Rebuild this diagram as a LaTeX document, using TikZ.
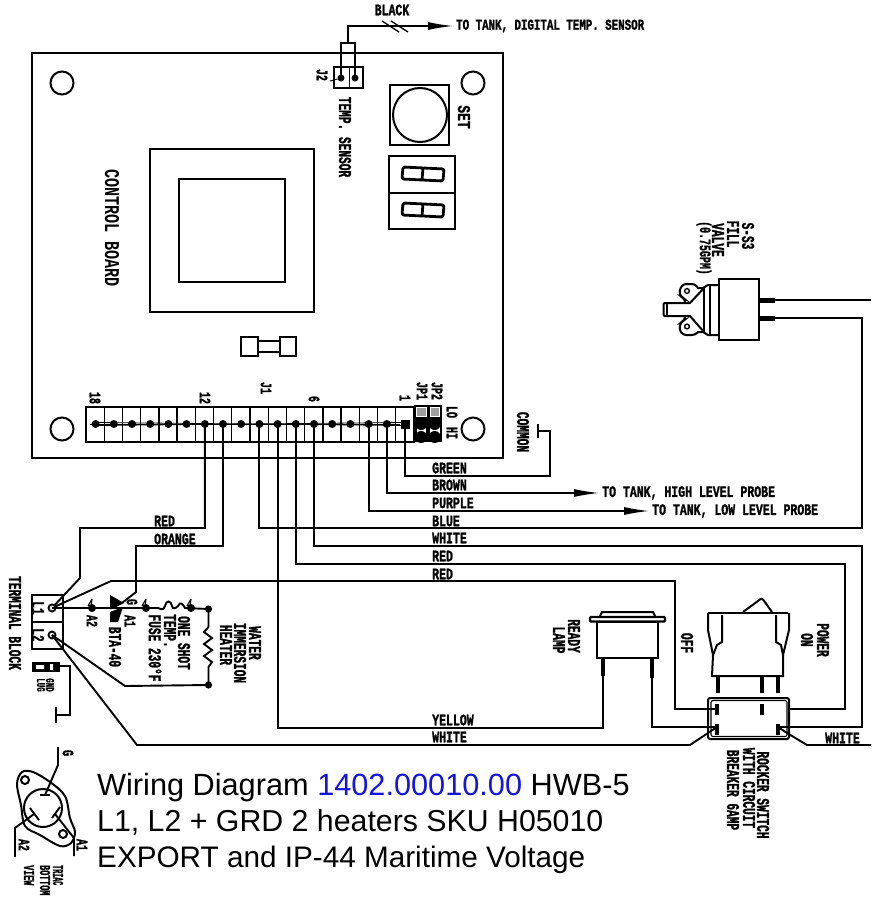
\documentclass[tikz,border=0pt]{standalone}
\usepackage{fontspec}
\usetikzlibrary{arrows.meta,calc}
\setmainfont{Liberation Sans}
\newfontfamily\cadfont[FakeStretch=0.72,FakeBold=1.2]{Liberation Mono Bold}
\newfontfamily\cadlight[FakeStretch=0.72]{Liberation Mono Bold}
\newfontfamily\cadtall[FakeStretch=0.62,FakeBold=1.2]{Liberation Mono Bold}
\definecolor{linkblue}{RGB}{20,20,220}
\tikzset{
  wire/.style={line width=1.9pt,line join=miter},
  body/.style={line width=2pt},
  thin wire/.style={line width=1pt},
  thick pin/.style={line width=3.2pt},
  arrowed/.style={wire,-{Latex[length=26pt,width=8pt]}},
  dot/.style={circle,fill=black,inner sep=0pt,minimum size=7pt},
  lab/.style={inner sep=0pt,font=\cadfont\fontsize{16}{17}\selectfont,anchor=west},
  smalllab/.style={inner sep=0pt,font=\cadfont\fontsize{15}{17}\selectfont,anchor=west},
  rlab/.style={inner sep=0pt,font=\cadtall\fontsize{18}{18}\selectfont,rotate=-90},
  bigrlab/.style={inner sep=0pt,font=\cadlight\fontsize{21}{21}\selectfont,rotate=-90},
  tinylab/.style={inner sep=0pt,font=\cadtall\fontsize{16}{16}\selectfont,rotate=-90},
  microlab/.style={inner sep=0pt,font=\cadtall\fontsize{12}{12}\selectfont,rotate=-90},
  trilab/.style={inner sep=0pt,font=\cadtall\fontsize{15}{15}\selectfont,rotate=-90,anchor=west},
  title/.style={inner sep=0pt,anchor=base west},
}
\begin{document}
\begin{tikzpicture}[x=1pt,y=-1pt]
\useasboundingbox (0,0) rectangle (871,901);
\clip (0,0) rectangle (871,901);
% ---- control board
\draw[body] (32,53) rectangle (503,458);
\foreach \x/\y in {62/83,473/83,62/429,473/429} \draw[body] (\x,\y) circle (11.5);
\draw[body] (150,149) rectangle (314,312);
\draw[body] (179,179) rectangle (285,282);
% fuse
\draw[body,line width=2.4pt] (241,337) rectangle (258,356);
\draw[body,line width=2.4pt] (280,337) rectangle (296,356);
\draw[body] (258,341) -- (280,341) (258,352) -- (280,352);
% set button and display
\draw[body] (390,85) rectangle (449,145);
\draw[body] (420,115) circle (27);
\draw[body] (389,156) rectangle (455,193);
\draw[body] (389,193) rectangle (455,229);
\foreach \y in {167,203}{
  \draw[line width=2.8pt,rounded corners=2pt] (403,\y) -- (444,\y+2) -- (443,\y+14) -- (402,\y+12) -- cycle;
  \draw[line width=2.8pt] (423,\y+1) -- (422,\y+13);
}
% J2
\draw[body] (334,67) rectangle (363,88);
\draw[thin wire] (349,67) -- (349,88);
\node[dot] (j2a) at (341,78) {};
\node[dot] (j2b) at (355,78) {};
\draw[thin wire] (330,81) -- (j2a);
\coordinate (j2top) at (348,43);
\draw[wire] (341,78) -- (341,43) -- (355,43) -- (355,78);
\coordinate (tanktemp) at (454,26);
\draw[arrowed] (j2top) |- (tanktemp);
\draw[line width=1.3pt] (382,21) -- (399,32) (391,21) -- (408,32);
% terminal strip
\draw[body] (86,407) rectangle (414,442);
\foreach \i in {1,...,17} \draw[line width=1.4pt] ({86+18.22*\i},407) -- ({86+18.22*\i},442);
\foreach \i in {1,...,18}{
  \coordinate (pin\i) at ({405-18.2*(\i-1)},424);
}
\draw[line width=.8pt] (90,424) -- (400,424);
\draw[line width=.8pt] (95,425.5) -- (405,422.5);
\draw[line width=.8pt] (95,422.5) -- (405,425.5);
\foreach \i in {2,...,18} \fill (pin\i) circle (4);
\fill (400.5,419.5) rectangle (409.5,428.5);
% jumpers
\fill (414,405) rectangle (442,442);
\foreach \x in {416,429.5}{
  \fill[gray!75] (\x,406.5) rectangle (\x+10.5,417);
  \draw[line width=.8pt,white] (\x+.5,407) rectangle (\x+10,416.5);
  \fill[white] (\x+.5,427) rectangle (\x+10,434);
  \fill (\x+5.2,424) circle (6);
  \fill (\x+5.2,437) circle (6);
}
% board labels
\node[bigrlab] (lboard) at (112,228) {CONTROL BOARD};
\node[rlab] (lsensor) at (345,137) {TEMP. SENSOR};
\node[rlab,font=\cadfont\fontsize{18}{18}\selectfont] (lset) at (464,117) {SET};
\node[tinylab] (lj2) at (322,75) {J2};
\node[tinylab] (l18) at (95,398) {18};
\node[tinylab] (l12) at (205,398) {12};
\node[tinylab] (lj1) at (266,388) {J1};
\node[tinylab] (l6) at (314,399) {6};
\node[tinylab] (l1) at (405,398) {1};
\node[tinylab] (ljpa) at (422,391) {JP1};
\node[tinylab] (ljpb) at (437,391) {JP2};
\node[tinylab] (llo) at (452,412) {LO};
\node[tinylab] (lhi) at (452,433) {HI};
\node[rlab] (lcommon) at (523,432) {COMMON};
% top texts
\node[lab,anchor=center] (lblack) at (392,10) {BLACK};
\node[smalllab] (ltanktemp) at (456,26) {TO TANK, DIGITAL TEMP. SENSOR};
% common wire
\coordinate (comm) at (550,431);
\coordinate (commbar) at (538,431);
\draw[wire] (pin1) |- (550,476) -- (comm) -- (commbar);
\draw[wire] (538,424) -- (538,438);
% probes
\coordinate (hprobe) at (600,493);
\coordinate (lprobe) at (650,511);
\draw[arrowed] (pin2) |- (hprobe);
\draw[arrowed] (pin3) |- (lprobe);
\node[lab] (lhprobe) at (602,493) {TO TANK, HIGH LEVEL PROBE};
\node[lab] (llprobe) at (652,511) {TO TANK, LOW LEVEL PROBE};
% long wires
\coordinate (valveb) at (775,318);
\coordinate (valvea) at (775,300);
\coordinate (offedge) at (871,300);
\draw[wire] (valvea) -- (offedge);
\draw[wire] (pin9) |- (862,528) -- (862,318) -- (valveb);
\draw[wire] (pin6) |- (862,546) -- (862,727) -- (790,727);
\draw[wire] (pin7) |- (845,564) -- (845,709) -- (790,709);
\coordinate (termL1) at (52,608);
\coordinate (termL2) at (52,635);
\draw[wire] (termL1) -- (111,581) -- (675,581) -- (675,709) -- (708,709);
\draw[wire] (pin8) |- (603,728) -- (603,676);
\draw[wire] (pin11) |- (136,546) -- (136,592) -- (122,603);
\draw[wire] (pin12) |- (80,528) -- (80,578) -- (termL1);
% wire labels
\foreach \n/\t/\y in {a/GREEN/468,b/BROWN/485,c/PURPLE/503,d/BLUE/521,e/WHITE/538,f/RED/556,g/RED/574,h/YELLOW/720,i/WHITE/737}
  \node[lab] (w\n) at (432,\y) {\t};
\node[lab] (wred) at (154,521) {RED};
\node[lab] (worange) at (154,539) {ORANGE};
\node[lab] (wwhite) at (825,738) {WHITE};
% terminal block
\draw[body] (32,595) rectangle (63,622);
\draw[body] (32,622) rectangle (63,649);
\draw[wire,fill=white] (termL1) circle (3.5);
\draw[wire,fill=white] (termL2) circle (3.5);
\node[tinylab,font=\cadtall\fontsize{18}{18}\selectfont] (ll1) at (38,608) {L1};
\node[tinylab,font=\cadtall\fontsize{18}{18}\selectfont] (ll2) at (38,635) {L2};
\node[rlab] (lterm) at (15,623) {TERMINAL BLOCK};
% gnd lug
\fill (32,662) rectangle (60,672);
\fill[white] (36,665) rectangle (44,669) (50,664) rectangle (53,670);
\coordinate (lug) at (60,666);
\coordinate (lugbar) at (56,715);
\draw[wire] (lug) -- (70,666) -- (70,715) -- (lugbar);
\draw[wire] (56,707) -- (56,723);
\node[microlab] (lgnd) at (50,685) {GND};
\node[microlab] (llug) at (41,685) {LUG};
% triac line
\coordinate (a2) at (92,608);
\coordinate (a1) at (146,608);
\coordinate (cutout) at (191,608);
\coordinate (ha) at (208.5,609);
\coordinate (hb) at (208.5,685);
\draw[wire] (termL1) -- (158,608) .. controls (160,608) and (163,612) .. (165,606) .. controls (166,600) and (171,600) .. (172,606) .. controls (173,610) and (176,608) .. (178,606) .. controls (180,601) and (183,604) .. (185,608) -- (ha);
\foreach \c in {a2,a1,cutout}{
  \fill (\c) circle (4);
  \draw[line width=1.1pt] (\c) ++(-4,-2) -- ++(4,-7);
  \draw[line width=1.1pt] (\c) ++(-1,-2) -- ++(1,-7);
}
\fill (ha) circle (3.6);
\fill (hb) circle (3.6);
\draw[wire] (ha) -- (208.5,627) -- (204,632) -- (212,638) -- (204,644) -- (212,650) -- (204,656) -- (212,662) -- (208.5,667) -- (hb);
\draw[wire] (hb) -- (125,686) -- (termL2);
\fill (110,595) -- (124,603) -- (112,609) -- (110,609) -- cycle;
\fill (110,612) -- (123,607) -- (118,622) -- (110,622) -- cycle;
\node[tinylab] (la2) at (92,621) {A2};
\node[tinylab] (la1) at (130,621) {A1};
\node[tinylab] (lg) at (132,602) {G};
\node[rlab] (lbta) at (115,647) {BTA-40};
\node[rlab] (lfuse) at (155,648) {FUSE 230°F};
\node[rlab] (ltemp) at (170,631) {TEMP.};
\node[rlab] (lone) at (184,643) {ONE SHOT};
\node[rlab] (lwater) at (255,643) {WATER};
\node[rlab] (limm) at (240,653) {IMMERSION};
\node[rlab] (lheat) at (226,645) {HEATER};
% lamp
\coordinate (lampa) at (603,676);
\coordinate (lampb) at (652,678);
\draw[body] (600,616) -- (602,612) -- (653,612) -- (655,616);
\draw[line width=2.4pt,rounded corners=1pt,fill=white] (590,617) rectangle (665,621.5);
\draw[body] (597,622) rectangle (658,658);
\draw[thick pin] (603,658) -- (lampa);
\draw[thick pin] (652,658) -- (652,678);
\draw[wire] (lampb) |- (708,727);
\node[rlab] (lready) at (574,636) {READY};
\node[rlab] (llamp) at (559,640) {LAMP};
% rocker
\draw[body,rounded corners=2pt] (743,612) -- (762,598) -- (772,612);
\draw[line width=2.6pt] (708,613) -- (788,613);
\draw[body] (708,613) -- (708,630) -- (713,655) -- (712,676) -- (783,676) -- (783,655) -- (789,630) -- (789,613);
\draw[body] (722,615) -- (722,642) -- (717,645) -- (713,655);
\draw[body] (776,615) -- (776,642) -- (781,645) -- (783,655);
\foreach \x in {718,762,778} \draw[thick pin] (\x,676) -- (\x,693);
\node[rlab] (loff) at (687,643) {OFF};
\node[rlab] (lpower) at (823,640) {POWER};
\node[rlab] (lon) at (807,640) {ON};
% breaker
\draw[body,rounded corners=2pt] (708,698) rectangle (789,739);
\draw[line width=1.1pt,rounded corners=2pt] (711,700.5) rectangle (787,736.5);
\foreach \x/\y in {717/704,762/704,717/724,778/724} \draw[thick pin] (\x,\y) -- (\x,\y+11);
\draw[wire] (708,709) -- (717,709) (708,727) -- (717,727) (778,727) -- (790,727);
\coordinate (lbot) at (708,733);
\coordinate (rbot) at (787,733);
\coordinate (rightedge) at (871,745);
\draw[wire] (termL2) -- (137,745) -- (690,745) -- (lbot) -- (717,727);
\draw[wire] (778,727) -- (rbot) -- (807,745) -- (rightedge);
\node[rlab] (lrock) at (763,795) {ROCKER SWITCH};
\node[rlab] (lwith) at (749,788) {WITH CIRCUIT};
\node[rlab] (lbreak) at (733,790) {BREAKER 6AMP};
% valve
\draw[body] (719,279) rectangle (759,340);
\draw[body] (719,285) -- (708,285) -- (703,288) -- (697,288);
\draw[body] (719,335) -- (708,335) -- (703,332) -- (697,332);
\draw[body] (704,288) -- (704,332) (710,285) -- (710,335);
\draw[body] (704,288) -- (690,303) -- (685,303);
\draw[body] (704,332) -- (690,316) -- (685,316);
\draw[body,rounded corners=3pt] (698,288) -- (695,284) -- (683,284) -- (679,291) -- (681,297) -- (685,299) -- (685,303);
\draw[body,rounded corners=3pt] (698,332) -- (695,335) -- (683,335) -- (679,329) -- (681,322) -- (685,320) -- (685,316);
\draw[body,rounded corners=1pt] (685,303) -- (663.5,303) -- (663.5,316) -- (685,316);
\draw[line width=1.4pt] (687,291) circle (2.4) (687,326.5) circle (2.4);
\draw[line width=2pt] (667,303) -- (667,316);
\draw[thick pin,line width=5pt] (759,300) -- (valvea);
\draw[thick pin,line width=5pt] (759,318) -- (valveb);
\node[rlab] (ls53) at (748,236) {S-S3};
\node[rlab] (lfill) at (733,234) {FILL};
\node[rlab] (lvalve) at (718,240) {VALVE};
\node[tinylab] (lgpm) at (704,248) {(0.75GPM)};
% triac bottom view
\draw[body] (43,808) circle (19);
\draw[body] (25,780) circle (4) (63,834) circle (4);
\draw[body] plot[smooth cycle,tension=.55] coordinates {(17,784) (22,772) (33,772) (50,782) (65,796) (70,818) (75,832) (71,843) (60,846) (40,835) (25,826) (21,805)};
\coordinate (tg) at (58,747);
\coordinate (ta2) at (15,857);
\coordinate (ta1) at (74,856);
\draw[wire] (45,795) -- (58,765) -- (tg);
\draw[wire] (34,814) -- (15,828) -- (ta2);
\draw[wire] (55,814) -- (74,838) -- (ta1);
\draw[wire] (40,795) -- (50,795);
\draw[wire] (30,808) -- (39,820);
\draw[wire] (52,818) -- (60,807);
\node[tinylab] (ltg) at (68,753) {G};
\node[tinylab] (lta2) at (24,845) {A2};
\node[tinylab] (lta1) at (82,845) {A1};
\node[trilab] (ltriac) at (58,865) {\scalebox{.72}[1]{TRIAC}};
\node[trilab] (lbottom) at (45,865) {\scalebox{.9}[1]{BOTTOM}};
\node[trilab] (lview) at (29,865) {\scalebox{.9}[1]{VIEW}};
% title
\node[title,font=\fontsize{30.7}{32}\selectfont] (t1) at (97,795) {Wiring Diagram \textcolor{linkblue}{1402.00010.00} HWB-5};
\node[title,font=\fontsize{30.3}{32}\selectfont] (t2) at (97,831) {L1, L2 + GRD 2 heaters SKU H05010};
\node[title,font=\fontsize{29.7}{32}\selectfont] (t3) at (97,867) {EXPORT and IP-44 Maritime Voltage};
\end{tikzpicture}
\end{document}
